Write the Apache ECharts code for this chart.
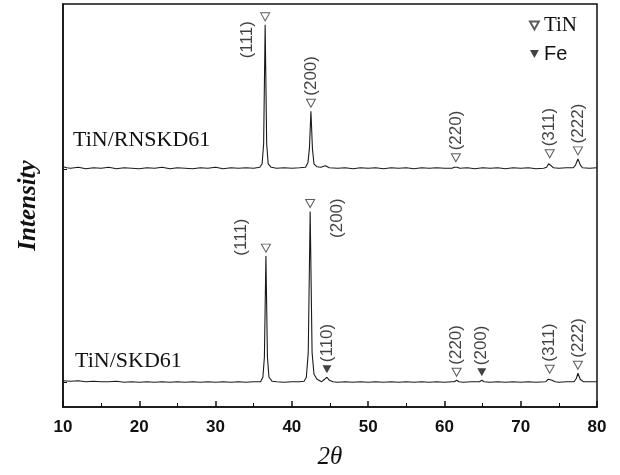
<!DOCTYPE html>
<html>
<head>
<meta charset="utf-8">
<script src="https://cdn.jsdelivr.net/npm/echarts@6/dist/echarts.min.js"></script>
<style>
  html, body { margin: 0; background: #fff; }
  #chart { width: 620px; height: 475px; }
</style>
</head>
<body>
<div id="chart"></div>
<script>
// XRD patterns, [2theta, counts above own baseline]
const rnTrace = [
  [10, 2], [10.5, 1], [11, 0.5], [12, 1.5], [13, 0], [14, 1], [15, 0.5], [16, 1.5], [17, 0], [18, 1],
  [19, 0.5], [20, 0], [21, 1], [22, 0.5], [23, 1.5], [24, 0], [25, 1], [26, 0.5], [27, 0], [28, 1],
  [29, 0.5], [30, 1.5], [31, 0], [32, 1], [33, 0.5], [34, 1], [35, 0.5], [35.8, 1.5], [36.1, 5],
  [36.3, 25], [36.5, 145], [36.7, 25], [36.9, 5], [37.3, 1.5], [38, 0.5], [39, 1], [40, 0.5], [41, 1],
  [41.8, 1.5], [42.1, 6], [42.3, 20], [42.5, 58], [42.7, 20], [42.9, 5], [43.3, 2], [43.8, 1.5],
  [44.4, 3], [44.9, 1], [46, 0.5], [47, 1], [48, 0], [49, 1], [50, 0.5], [51, 1], [52, 0], [53, 1],
  [54, 0.5], [55, 1], [56, 0], [57, 1], [58, 0.5], [59, 1], [60, 0.5], [61, 0.5], [61.3, 1.5],
  [61.5, 3], [61.7, 1.5], [62, 0.5], [63, 1], [64, 0], [65, 1], [66, 0.5], [67, 1], [68, 0], [69, 1],
  [70, 0.5], [71, 1], [72, 0], [73, 0.5], [73.4, 1.5], [73.65, 5], [73.8, 7], [74.0, 3], [74.3, 1],
  [75, 0.5], [76, 1], [76.9, 1], [77.2, 4], [77.5, 10], [77.8, 4], [78.1, 1], [79, 0.5], [80, 1]
];
const skdTrace = [
  [10, 1.5], [11, 1], [12, 1.5], [13, 0.5], [14, 1], [15, 0.5], [16, 0.5], [17, 1], [18, 0], [19, 0.5],
  [20, 0], [21, 0.5], [22, 0], [23, 0.5], [24, 0], [25, 0.5], [26, 0], [27, 0.5], [28, 0], [29, 0.5],
  [30, 0], [31, 0.5], [32, 0], [33, 0.5], [34, 0], [35, 0.5], [35.9, 0.5], [36.2, 5], [36.4, 25],
  [36.6, 127], [36.8, 25], [37.0, 5], [37.4, 1], [38, 0.5], [39, 0], [40, 0.5], [41, 0.5], [41.6, 1],
  [41.9, 5], [42.15, 30], [42.4, 172], [42.65, 30], [42.9, 8], [43.3, 3], [43.9, 0.5], [44.3, 3],
  [44.6, 5], [44.9, 2], [45.4, 0.5], [46, 0], [47, 0.5], [48, 0], [49, 0.5], [50, 0], [51, 0.5],
  [52, 0], [53, 0.5], [54, 0], [55, 0.5], [56, 0], [57, 0.5], [58, 0], [59, 0.5], [60, 0], [61, 0.5],
  [61.3, 0.5], [61.6, 2], [61.9, 0.5], [62.5, 0], [63.5, 0.5], [64.6, 0.5], [64.9, 2], [65.2, 0.5],
  [66, 0], [67, 0.5], [68, 0], [69, 0.5], [70, 0], [71, 0.5], [72, 0], [73.3, 0.5], [73.6, 3],
  [73.8, 5], [74.1, 2], [74.5, 0.5], [75, 0], [76, 0.5], [77.0, 0.5], [77.3, 4], [77.5, 9], [77.8, 3],
  [78.2, 0.5], [79, 0.5], [80, 0.5]
];

// indexed reflections
const rnPeak2Theta = [36.5, 42.5, 61.5, 73.8, 77.5];
const rnPeakHkl = ['(111)', '(200)', '(220)', '(311)', '(222)'];
const rnPeakPhase = ['TiN', 'TiN', 'TiN', 'TiN', 'TiN'];
const skdPeak2Theta = [36.6, 42.4, 44.6, 61.6, 64.9, 73.8, 77.5];
const skdPeakHkl = ['(111)', '(200)', '(110)', '(220)', '(200)', '(311)', '(222)'];
const skdPeakPhase = ['TiN', 'TiN', 'Fe', 'TiN', 'Fe', 'TiN', 'TiN'];

const sampleNames = ['TiN/RNSKD61', 'TiN/SKD61'];
const xTicks = [10, 20, 30, 40, 50, 60, 70, 80];

// vertical stacking of the two patterns (a.u.)
const RN_OFFSET = 240;
const SKD_OFFSET = 25;

// labels that sit beside the marker instead of above it
const labelShift = {
  'rn TiN(111)': [-49, -18],
  'skd TiN(111)': [-15, -25],
  'skd TiN(200)': [-42, 27]
};

const downTriangle = 'path://M0,0L10,0L5,9Z';

const peakTop = (trace, x) => Math.max(...trace.filter(p => Math.abs(p[0] - x) < 0.35).map(p => p[1]));

function markers(key, trace, offset, pos, hkl, phase, which) {
  const out = [];
  pos.forEach((x, i) => {
    if (phase[i] !== which) return;
    const item = { name: hkl[i], value: [x, peakTop(trace, x) + offset] };
    const s = labelShift[key + ' ' + phase[i] + hkl[i]];
    if (s) item.label = { offset: s };
    out.push(item);
  });
  return out;
}

const markerData = which => markers('rn', rnTrace, RN_OFFSET, rnPeak2Theta, rnPeakHkl, rnPeakPhase, which)
  .concat(markers('skd', skdTrace, SKD_OFFSET, skdPeak2Theta, skdPeakHkl, skdPeakPhase, which));

const hklLabel = {
  show: true,
  position: 'top',
  distance: 3,
  rotate: 90,
  align: 'left',
  verticalAlign: 'middle',
  formatter: p => p.name,
  fontFamily: 'Liberation Sans',
  fontSize: 17,
  color: '#111'
};

const chart = echarts.init(document.getElementById('chart'));
chart.setOption({
  animation: false,
  backgroundColor: '#fff',
  grid: { left: 63, right: 23, top: 4, bottom: 65, show: true, borderColor: '#111', borderWidth: 1.5 },
  legend: {
    orient: 'vertical',
    right: 38,
    top: 10,
    itemWidth: 9,
    itemHeight: 8,
    itemGap: 8,
    data: [
      { name: 'TiN', icon: downTriangle, textStyle: { fontFamily: 'Liberation Serif', fontSize: 21, color: '#111' } },
      { name: 'Fe', icon: downTriangle, textStyle: { fontFamily: 'Liberation Sans', fontSize: 20, color: '#111' } }
    ]
  },
  graphic: [
    { type: 'text', left: 73, top: 129, style: { text: sampleNames[0], font: '22px "Liberation Serif"', fill: '#111' } },
    { type: 'text', left: 75, top: 350, style: { text: sampleNames[1], font: '22px "Liberation Serif"', fill: '#111' } }
  ],
  xAxis: {
    type: 'value',
    min: xTicks[0],
    max: xTicks[xTicks.length - 1],
    interval: 10,
    name: '2θ',
    nameLocation: 'middle',
    nameGap: 38,
    nameTextStyle: { fontFamily: 'Liberation Serif', fontStyle: 'italic', fontSize: 25, color: '#111' },
    axisLine: { lineStyle: { color: '#111', width: 1.5 } },
    axisTick: { inside: true, length: 6, lineStyle: { color: '#111', width: 1.5 } },
    minorTick: { show: true, splitNumber: 2, length: 4, lineStyle: { color: '#111', width: 1 } },
    axisLabel: { fontFamily: 'Liberation Sans', fontWeight: 'bold', fontSize: 17, color: '#111', margin: 12 },
    splitLine: { show: false }
  },
  yAxis: {
    type: 'value',
    min: 0,
    max: 406,
    name: 'Intensity',
    nameLocation: 'middle',
    nameGap: 22,
    nameTextStyle: { fontFamily: 'Liberation Serif', fontStyle: 'italic', fontWeight: 'bold', fontSize: 25, color: '#111' },
    axisLine: { show: true, lineStyle: { color: '#111', width: 1.5 } },
    axisTick: { show: true, inside: true, length: 4, customValues: [SKD_OFFSET, RN_OFFSET], lineStyle: { color: '#111' } },
    axisLabel: { show: false },
    splitLine: { show: false }
  },
  series: [
    {
      name: sampleNames[0],
      type: 'line',
      showSymbol: false,
      data: rnTrace.map(p => [p[0], p[1] + RN_OFFSET]),
      lineStyle: { color: '#1a1a1a', width: 1.1 }
    },
    {
      name: sampleNames[1],
      type: 'line',
      showSymbol: false,
      data: skdTrace.map(p => [p[0], p[1] + SKD_OFFSET]),
      lineStyle: { color: '#1a1a1a', width: 1.1 }
    },
    {
      name: 'TiN',
      type: 'scatter',
      symbol: 'triangle',
      symbolRotate: 180,
      symbolSize: [9, 8],
      symbolOffset: [0, -8],
      itemStyle: { color: '#fff', borderColor: '#333', borderWidth: 1 },
      label: hklLabel,
      data: markerData('TiN'),
      z: 5
    },
    {
      name: 'Fe',
      type: 'scatter',
      symbol: 'triangle',
      symbolRotate: 180,
      symbolSize: [9, 8],
      symbolOffset: [0, -8],
      itemStyle: { color: '#111' },
      label: hklLabel,
      data: markerData('Fe'),
      z: 5
    }
  ]
});
</script>
</body>
</html>
